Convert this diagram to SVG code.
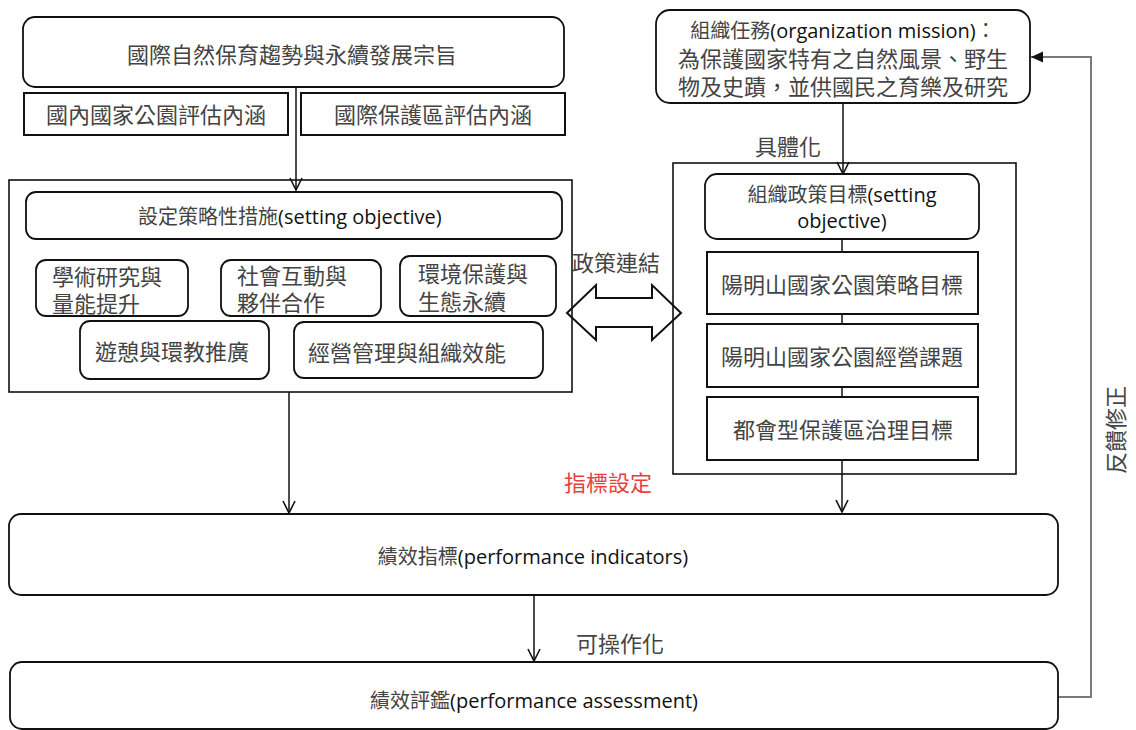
<svg xmlns="http://www.w3.org/2000/svg" width="1136" height="730" viewBox="0 0 1136 730">
<style>
.bg{fill:#fff}
.rb{fill:#fff;stroke:#111;stroke-width:1.8}
.sq{fill:#fff;stroke:#111;stroke-width:2}
.ct{fill:none;stroke:#111;stroke-width:1.6}
.ln{fill:none;stroke:#111;stroke-width:1.5}
.fb{fill:none;stroke:#7a7a7a;stroke-width:2}
.cj{font-family:"Noto Sans CJK TC","Noto Sans CJK SC",sans-serif;font-size:22px;fill:#444}
.mx{font-family:"Open Sans","Noto Sans CJK TC",sans-serif;font-size:20px;fill:#444}
.lt{fill:#111}
.red{fill:#e8413c}
.mid{text-anchor:middle}
</style>
<defs>
<marker id="openArrow" markerUnits="userSpaceOnUse" markerWidth="14" markerHeight="14" viewBox="0 0 14 14" refX="13" refY="7" orient="auto">
<path d="M1,1 L13,7 L1,13" fill="none" stroke="#111" stroke-width="1.6"/>
</marker>
<marker id="solidArrow" markerUnits="userSpaceOnUse" markerWidth="14" markerHeight="14" viewBox="0 0 14 14" refX="13" refY="7" orient="auto">
<path d="M1,1.5 L13,7 L1,12.5 Z" fill="#111"/>
</marker>
</defs>
<rect class="bg" x="0" y="0" width="1136" height="730"/>

<g id="connectors">
<line class="ln" x1="296" y1="87" x2="296" y2="190" marker-end="url(#openArrow)"/>
<line class="ln" x1="843" y1="103" x2="843" y2="174" marker-end="url(#openArrow)"/>
<line class="ln" x1="842" y1="239" x2="842" y2="252"/>
<line class="ln" x1="842" y1="314" x2="842" y2="324"/>
<line class="ln" x1="842" y1="387" x2="842" y2="397"/>
<line class="ln" x1="842" y1="460" x2="842" y2="512" marker-end="url(#openArrow)"/>
<line class="ln" x1="289" y1="392" x2="289" y2="513" marker-end="url(#openArrow)"/>
<line class="ln" x1="534" y1="595" x2="534" y2="661" marker-end="url(#openArrow)"/>
<polyline class="fb" points="1058,697 1091,697 1091,57 1031,57" marker-end="url(#solidArrow)"/>
<polygon points="567,313 596,285 596,298 652,298 652,285 681,313 652,340 652,327 596,327 596,340" fill="none" stroke="#111" stroke-width="2"/>
<text class="cj mid" x="788" y="155">具體化</text>
<text class="cj mid" x="616" y="271">政策連結</text>
<text class="cj mid red" x="608" y="491">指標設定</text>
<text class="cj mid" x="620" y="652">可操作化</text>
<text class="cj mid" transform="translate(1116,430) rotate(-90)" x="0" y="8">反饋修正</text>
</g>

<g id="trend">
<rect class="rb" x="23" y="17" width="541" height="70" rx="12"/>
<text class="cj mid" x="292" y="63">國際自然保育趨勢與永續發展宗旨</text>
</g>
<g id="domestic">
<rect class="sq" x="24" y="93" width="264" height="42"/>
<text class="cj mid" x="156" y="123">國內國家公園評估內涵</text>
</g>
<g id="international">
<rect class="sq" x="301" y="93" width="264" height="42"/>
<text class="cj mid" x="433" y="123">國際保護區評估內涵</text>
</g>

<g id="strategy-group">
<rect class="ct" x="9" y="180" width="563" height="212"/>
</g>
<g id="strategy">
<rect class="rb" x="26" y="192" width="536" height="47" rx="10"/>
<text class="mx" x="138" y="224">設定策略性措施<tspan class="lt">(setting objective)</tspan></text>
</g>
<g id="research">
<rect class="rb" x="36" y="260" width="152" height="56" rx="10"/>
<text class="cj" x="52" y="285">學術研究與<tspan x="52" dy="27">量能提升</tspan></text>
</g>
<g id="social">
<rect class="rb" x="221" y="260" width="160" height="56" rx="10"/>
<text class="cj" x="237" y="284">社會互動與<tspan x="237" dy="27">夥伴合作</tspan></text>
</g>
<g id="environment">
<rect class="rb" x="400" y="256" width="156" height="60" rx="10"/>
<text class="cj" x="418" y="282">環境保護與<tspan x="418" dy="28">生態永續</tspan></text>
</g>
<g id="recreation">
<rect class="rb" x="80" y="321" width="189" height="58" rx="10"/>
<text class="cj mid" x="172" y="360">遊憩與環教推廣</text>
</g>
<g id="management">
<rect class="rb" x="294" y="322" width="249" height="56" rx="10"/>
<text class="cj mid" x="407" y="361">經營管理與組織效能</text>
</g>

<g id="mission">
<rect class="rb" x="656" y="10" width="374" height="93" rx="14"/>
<text class="mx mid" x="843" y="38">組織任務<tspan class="lt">(organization mission)</tspan>：<tspan class="cj" x="843" dy="29">為保護國家特有之自然風景、野生</tspan><tspan class="cj" x="843" dy="28">物及史蹟，並供國民之育樂及研究</tspan></text>
</g>

<g id="policy-group">
<rect class="ct" x="673" y="163" width="343" height="311"/>
</g>
<g id="policy">
<rect class="rb" x="705" y="174" width="274" height="65" rx="12"/>
<text class="mx mid" x="842" y="202">組織政策目標<tspan class="lt">(setting</tspan><tspan class="lt" x="842" dy="26">objective)</tspan></text>
</g>
<g id="ymsnp-strategy">
<rect class="sq" x="707" y="252" width="271" height="62"/>
<text class="cj mid" x="842" y="293">陽明山國家公園策略目標</text>
</g>
<g id="ymsnp-issues">
<rect class="sq" x="707" y="324" width="271" height="63"/>
<text class="cj mid" x="842" y="365">陽明山國家公園經營課題</text>
</g>
<g id="urban-pa">
<rect class="sq" x="707" y="397" width="271" height="63"/>
<text class="cj mid" x="843" y="438">都會型保護區治理目標</text>
</g>

<g id="indicators">
<rect class="rb" x="9" y="514" width="1049" height="81" rx="12"/>
<text class="mx mid" x="533" y="564">績效指標<tspan class="lt">(performance indicators)</tspan></text>
</g>
<g id="assessment">
<rect class="rb" x="10" y="662" width="1048" height="67" rx="12"/>
<text class="mx mid" x="534" y="708">績效評鑑<tspan class="lt">(performance assessment)</tspan></text>
</g>
</svg>
